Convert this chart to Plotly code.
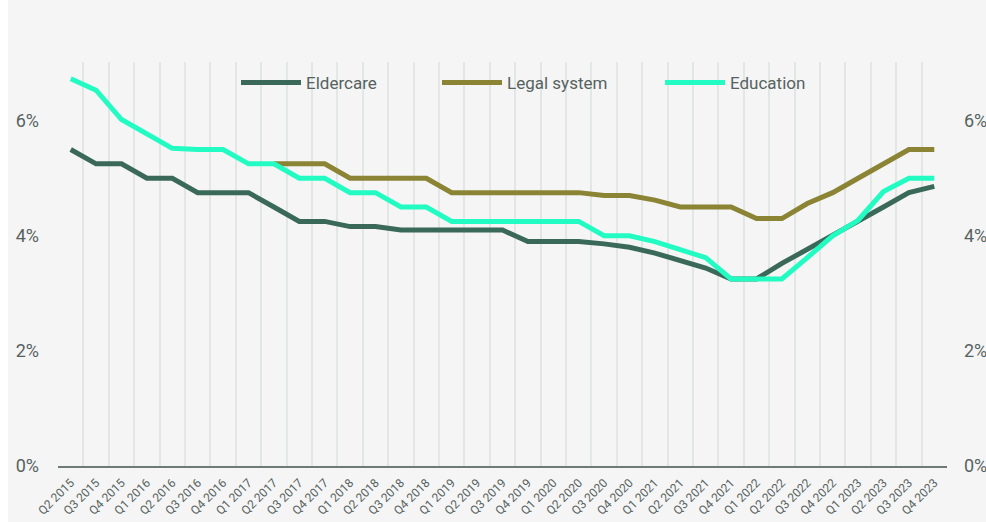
import plotly.graph_objects as go

quarters = ["Q2 2015", "Q3 2015", "Q4 2015",
            "Q1 2016", "Q2 2016", "Q3 2016", "Q4 2016",
            "Q1 2017", "Q2 2017", "Q3 2017", "Q4 2017",
            "Q1 2018", "Q2 2018", "Q3 2018", "Q4 2018",
            "Q1 2019", "Q2 2019", "Q3 2019", "Q4 2019",
            "Q1 2020", "Q2 2020", "Q3 2020", "Q4 2020",
            "Q1 2021", "Q2 2021", "Q3 2021", "Q4 2021",
            "Q1 2022", "Q2 2022", "Q3 2022", "Q4 2022",
            "Q1 2023", "Q2 2023", "Q3 2023", "Q4 2023"]

eldercare = [5.5, 5.25, 5.25, 5.0, 5.0, 4.75, 4.75, 4.75, 4.5, 4.25, 4.25, 4.16,
             4.16, 4.1, 4.1, 4.1, 4.1, 4.1, 3.9, 3.9, 3.9, 3.86, 3.8, 3.7, 3.58,
             3.44, 3.25, 3.25, 3.52, 3.76, 4.0, 4.25, 4.5, 4.75, 4.86]

legal_system = [None, None, None, None, None, None, None, None,
                5.25, 5.25, 5.25, 5.0, 5.0, 5.0, 5.0, 4.75, 4.75, 4.75, 4.75,
                4.75, 4.75, 4.7, 4.7, 4.62, 4.5, 4.5, 4.5, 4.3, 4.3, 4.56, 4.75,
                5.0, 5.25, 5.5, 5.5]

education = [6.73, 6.53, 6.02, 5.77, 5.52, 5.5, 5.5, 5.25, 5.25, 5.0, 5.0, 4.75,
             4.75, 4.5, 4.5, 4.25, 4.25, 4.25, 4.25, 4.25, 4.25, 4.0, 4.0, 3.9,
             3.76, 3.62, 3.25, 3.25, 3.25, 3.62, 4.0, 4.27, 4.77, 5.0, 5.0]

series_names = ["Eldercare", "Legal system", "Education"]
series_values = [eldercare, legal_system, education]
series_colors = ["#3a695a", "#8a8434", "#22fcc2"]

y_ticks = [0, 2, 4, 6]
y_tick_labels = ["0%", "2%", "4%", "6%"]

BG = "#f5f5f5"
TXT = "#56625f"
FONT = "Roboto"

W, H = 986, 522
ML, MR, MT, MB = 58, 39, 62, 56
PW = W - ML - MR
PH = H - MT - MB

# left pixel of each legend entry
legend_px = [236, 437, 660]
legend_ids = ["legend", "legend2", "legend3"]

fig = go.Figure()
for name, vals, col, lid in zip(series_names, series_values, series_colors, legend_ids):
    fig.add_trace(go.Scatter(
        x=quarters, y=vals, name=name, mode="lines",
        line=dict(color=col, width=5), connectgaps=False,
        legend=lid, hoverinfo="skip"))

# invisible trace so that the mirrored right-hand axis is drawn
fig.add_trace(go.Scatter(x=quarters, y=eldercare, yaxis="y2", mode="lines",
                         line=dict(width=0), opacity=0, showlegend=False,
                         hoverinfo="skip"))

legend_common = dict(orientation="h", xanchor="left",
                     y=1 - (83 - MT) / PH, yanchor="middle",
                     bgcolor="rgba(0,0,0,0)", font=dict(size=17, color=TXT),
                     itemwidth=60)

layout_legends = {}
for lid, px in zip(legend_ids, legend_px):
    layout_legends[lid] = dict(x=(px - ML) / PW, **legend_common)

fig.update_layout(
    width=W, height=H,
    margin=dict(l=ML, r=MR, t=MT, b=MB, autoexpand=False),
    paper_bgcolor=BG, plot_bgcolor=BG,
    font=dict(family=FONT, color=TXT),
    showlegend=True,
    xaxis=dict(type="category", range=[-0.5, len(quarters) - 0.5],
               tickson="boundaries", showgrid=True, gridcolor="#e2e7e5",
               gridwidth=2, ticks="", tickangle=-45,
               tickfont=dict(size=12, color=TXT), ticklabelstandoff=3,
               showline=True, linecolor="#6e7a77", linewidth=2,
               zeroline=False, fixedrange=True),
    yaxis=dict(range=[0, 7.02], tickvals=y_ticks, ticktext=y_tick_labels,
               showgrid=False, zeroline=False, showline=False, ticks="",
               tickfont=dict(size=18, color=TXT), ticklabelstandoff=18,
               fixedrange=True),
    yaxis2=dict(range=[0, 7.02], tickvals=y_ticks, ticktext=y_tick_labels,
                overlaying="y", side="right", showgrid=False, zeroline=False,
                showline=False, ticks="", tickfont=dict(size=18, color=TXT),
                ticklabelstandoff=16, fixedrange=True),
    shapes=[dict(type="rect", xref="paper", yref="paper",
                 x0=(0 - ML) / PW, x1=(8 - ML) / PW,
                 y0=-MB / PH, y1=1 + MT / PH,
                 fillcolor="#ffffff", line=dict(width=0), layer="below")],
    **layout_legends,
)

fig.write_html("out.html")
